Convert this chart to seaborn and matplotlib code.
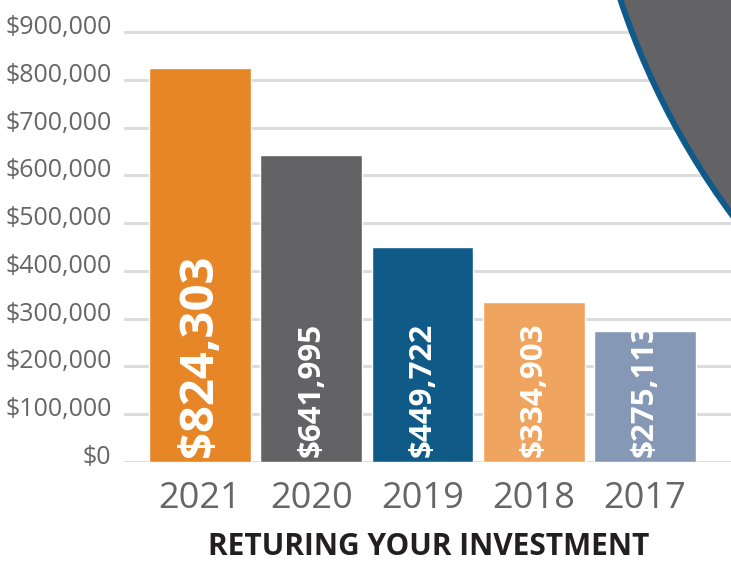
import numpy as np
import pandas as pd
import matplotlib
matplotlib.use("Agg")
import matplotlib.pyplot as plt
from matplotlib.patches import Ellipse
from matplotlib.transforms import ScaledTranslation
import seaborn as sns

# data
years = ["2021", "2020", "2019", "2018", "2017"]
returns = [824303, 641995, 449722, 334903, 275113]
y_ticks = [0, 100000, 200000, 300000, 400000, 500000, 600000, 700000, 800000, 900000]
title = "RETURING YOUR INVESTMENT"

bar_colors = ["#e68626", "#636365", "#105a87", "#efa55f", "#8598b6"]
label_sizes = [34, 22.5, 22.5, 22.5, 22.5]

sns.set_style("white")
plt.rcParams["font.family"] = ["Open Sans", "DejaVu Sans"]

W, H = 731, 565
fig = plt.figure(figsize=(W / 100, H / 100), dpi=100)
ax = fig.add_axes([124 / W, 103 / H, 1 - 124 / W, 462 / H])

df = pd.DataFrame({"year": years, "value": returns})
sns.barplot(data=df, x="year", y="value", hue="year", palette=bar_colors,
            width=0.915, saturation=1, legend=False, ax=ax, zorder=3)

ax.set_ylim(0, 967000)
ax.set_xlim(-0.683, 4.773)
for s in ax.spines.values():
    s.set_visible(False)

ax.set_yticks(y_ticks)
ax.set_yticklabels([f"${v:,}" for v in y_ticks])
ax.yaxis.grid(True, color="#dcdcdc", lw=2.2)
ax.xaxis.grid(False)
ax.set_axisbelow(True)
ax.tick_params(axis="y", length=0, pad=9, labelsize=18, labelcolor="#666666")
ax.tick_params(axis="x", length=0, pad=14, labelsize=26, labelcolor="#666666")
ax.set_xlabel("")
ax.set_ylabel("")

# y labels sit just above their gridline
for lbl in ax.get_yticklabels():
    lbl.set_verticalalignment("baseline")
    lbl.set_transform(lbl.get_transform() + ScaledTranslation(0, -0.02, fig.dpi_scale_trans))

for i, v in enumerate(returns):
    ax.annotate(f"${v:,}", (i, 0), xytext=(0, 5), textcoords="offset pixels",
                rotation=90, rotation_mode="anchor", ha="left", va="center",
                color="white", fontweight="bold", fontsize=label_sizes[i], zorder=4)

fig.text(429 / W, 1 - 547 / H, title, ha="center", va="center",
         fontsize=21.5, fontweight="bold", color="#231f20")

# decorative corner shape
r = 773
fig.add_artist(Ellipse((1354 / W, 1 + 244 / H), 2 * r / W, 2 * r / H,
                       transform=fig.transFigure, facecolor="#636366",
                       edgecolor="#0f5a8a", lw=4.3, zorder=5))

fig.savefig("out.png", dpi=100)
